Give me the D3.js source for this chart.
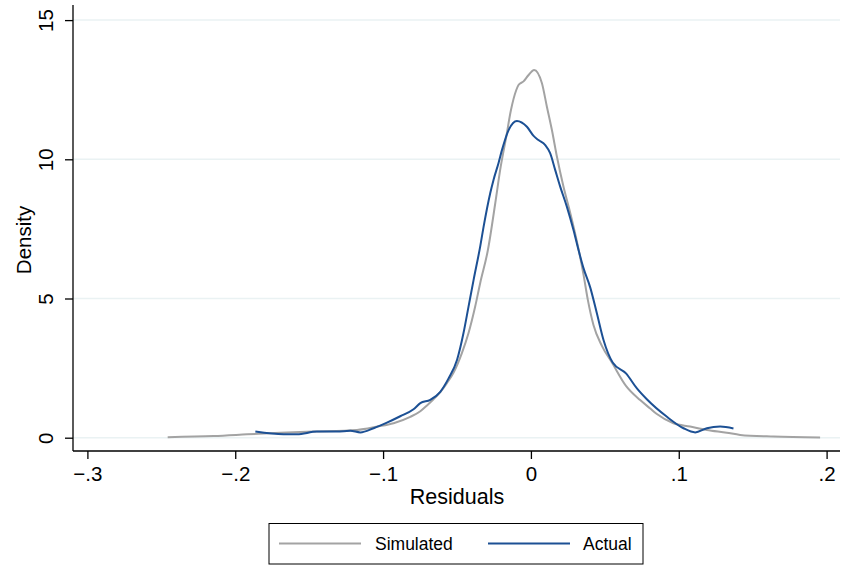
<!DOCTYPE html>
<html>
<head>
<meta charset="utf-8">
<script src="https://cdn.jsdelivr.net/npm/d3@7"></script>
<style>
  html, body { margin: 0; padding: 0; background: #fff; }
  svg { display: block; }
  text { font-family: "Liberation Sans", Arial, Helvetica, sans-serif; fill: #000; }
</style>
</head>
<body>
<svg id="chart" width="843" height="572"></svg>
<script>
// Kernel density estimates of residuals: [residual, density]
const simulated = [
  [-0.2457,0.02],[-0.2146,0.06],[-0.192,0.12],[-0.1695,0.18],[-0.147,0.22],[-0.1176,0.28],
  [-0.104,0.40],[-0.0929,0.52],[-0.0816,0.75],[-0.0748,0.95],[-0.0703,1.16],[-0.0659,1.38],
  [-0.0613,1.64],[-0.0568,1.96],[-0.0523,2.34],[-0.0467,3.04],[-0.0422,3.76],[-0.0377,4.71],
  [-0.0343,5.56],[-0.0291,6.74],[-0.0241,8.43],[-0.0208,9.62],[-0.0167,10.81],[-0.0135,11.77],
  [-0.0099,12.49],[-0.0084,12.67],[-0.005,12.8],[-0.002,13.0],[0.0022,13.21],[0.0074,12.74],
  [0.0108,11.89],[0.0142,11.05],[0.0176,10.09],[0.022,9.02],[0.0266,8.07],[0.0315,6.95],
  [0.0356,5.85],[0.0385,4.95],[0.0423,4.05],[0.048,3.30],[0.0548,2.70],[0.0643,1.86],
  [0.0739,1.35],[0.0807,1.05],[0.0852,0.85],[0.0964,0.52],[0.1077,0.40],[0.119,0.28],
  [0.1325,0.18],[0.1415,0.10],[0.164,0.04],[0.1956,0.01]
];
const actual = [
  [-0.1864,0.22],[-0.1673,0.12],[-0.1582,0.12],[-0.1447,0.22],[-0.1312,0.22],[-0.1222,0.25],
  [-0.1154,0.19],[-0.1064,0.34],[-0.0974,0.54],[-0.0884,0.77],[-0.0794,1.02],[-0.0748,1.24],
  [-0.0681,1.36],[-0.0613,1.65],[-0.0557,2.13],[-0.05,2.79],[-0.0456,3.76],[-0.0422,4.71],
  [-0.0388,5.66],[-0.0342,6.9],[-0.032,7.58],[-0.0275,8.79],[-0.0253,9.26],[-0.0219,9.87],
  [-0.0196,10.33],[-0.0151,11.05],[-0.0095,11.38],[-0.0027,11.17],[0.0018,10.84],[0.0051,10.69],
  [0.0097,10.51],[0.013,10.22],[0.0164,9.62],[0.0198,9.02],[0.0243,8.30],[0.0288,7.46],
  [0.0322,6.74],[0.0355,6.10],[0.0401,5.40],[0.0446,4.47],[0.0491,3.51],[0.0553,2.70],
  [0.0643,2.31],[0.0717,1.77],[0.0784,1.38],[0.092,0.75],[0.1032,0.34],[0.1111,0.19],
  [0.119,0.34],[0.128,0.40],[0.137,0.33]
];
const xTicks = [-0.3, -0.2, -0.1, 0, 0.1, 0.2];
const xTickLabels = ["\u2212.3", "\u2212.2", "\u2212.1", "0", ".1", ".2"];
const yTicks = [0, 5, 10, 15];
const seriesNames = ["Simulated", "Actual"];
const seriesColors = ["#a3a3a3", "#1c5094"];

const svg = d3.select("#chart");

const axisLeft = 73, axisBottom = 451, plotRight = 840, plotTop = 5;
const x = d3.scaleLinear().domain([-0.3, 0.2]).range([87.4, 826.6]);
const y = d3.scaleLinear().domain([0, 15]).range([437.7, 20.1]);

// horizontal grid lines
svg.append("g").selectAll("line").data(yTicks).join("line")
  .attr("x1", axisLeft).attr("x2", plotRight)
  .attr("y1", d => y(d)).attr("y2", d => y(d))
  .attr("stroke", "#eaf2f3").attr("stroke-width", 1.5);

// density curves
const line = d3.line().x(d => x(d[0])).y(d => y(d[1])).curve(d3.curveMonotoneX);
[simulated, actual].forEach((s, i) => {
  svg.append("path").datum(s)
    .attr("d", line)
    .attr("fill", "none")
    .attr("stroke", seriesColors[i])
    .attr("stroke-width", 2)
    .attr("stroke-linejoin", "round");
});

// y axis
const gy = svg.append("g").attr("transform", `translate(${axisLeft},0)`)
  .call(d3.axisLeft(y).tickValues(yTicks).tickSize(8).tickPadding(0).tickFormat(d3.format("d")));
gy.select(".domain").attr("d", `M0,${plotTop}V${axisBottom}`).attr("stroke", "#000").attr("stroke-width", 1.3);
gy.selectAll(".tick line").attr("stroke", "#000").attr("stroke-width", 1.3);
gy.selectAll(".tick text")
  .attr("font-size", 20.5).attr("font-family", "Liberation Sans, Arial, sans-serif")
  .attr("text-anchor", "middle").attr("x", null).attr("dy", null)
  .attr("transform", "translate(-20,0) rotate(-90)").attr("y", 0);

// x axis
const gx = svg.append("g").attr("transform", `translate(0,${axisBottom})`)
  .call(d3.axisBottom(x).tickValues(xTicks).tickSize(8).tickPadding(0)
    .tickFormat((d, i) => xTickLabels[i]));
gx.select(".domain").attr("d", `M${axisLeft},0H${plotRight}`).attr("stroke", "#000").attr("stroke-width", 1.3);
gx.selectAll(".tick line").attr("stroke", "#000").attr("stroke-width", 1.3);
gx.selectAll(".tick text")
  .attr("font-size", 20.5).attr("font-family", "Liberation Sans, Arial, sans-serif")
  .attr("dy", null).attr("y", 30);

// axis titles
svg.append("text").attr("x", 457).attr("y", 504).attr("text-anchor", "middle")
  .attr("font-size", 21.5).text("Residuals");
svg.append("text").attr("transform", "translate(31,240) rotate(-90)").attr("text-anchor", "middle")
  .attr("font-size", 20.5).text("Density");

// legend
const legend = svg.append("g");
legend.append("rect").attr("x", 269).attr("y", 523.5).attr("width", 374).attr("height", 40.5)
  .attr("fill", "#fff").attr("stroke", "#000").attr("stroke-width", 1);
const legendItems = [
  { x1: 279, x2: 361, tx: 375 },
  { x1: 488, x2: 570, tx: 583 }
];
legendItems.forEach((it, i) => {
  legend.append("line").attr("x1", it.x1).attr("x2", it.x2).attr("y1", 543.5).attr("y2", 543.5)
    .attr("stroke", seriesColors[i]).attr("stroke-width", 2);
  legend.append("text").attr("x", it.tx).attr("y", 550).attr("font-size", 17.5).text(seriesNames[i]);
});
</script>
</body>
</html>
